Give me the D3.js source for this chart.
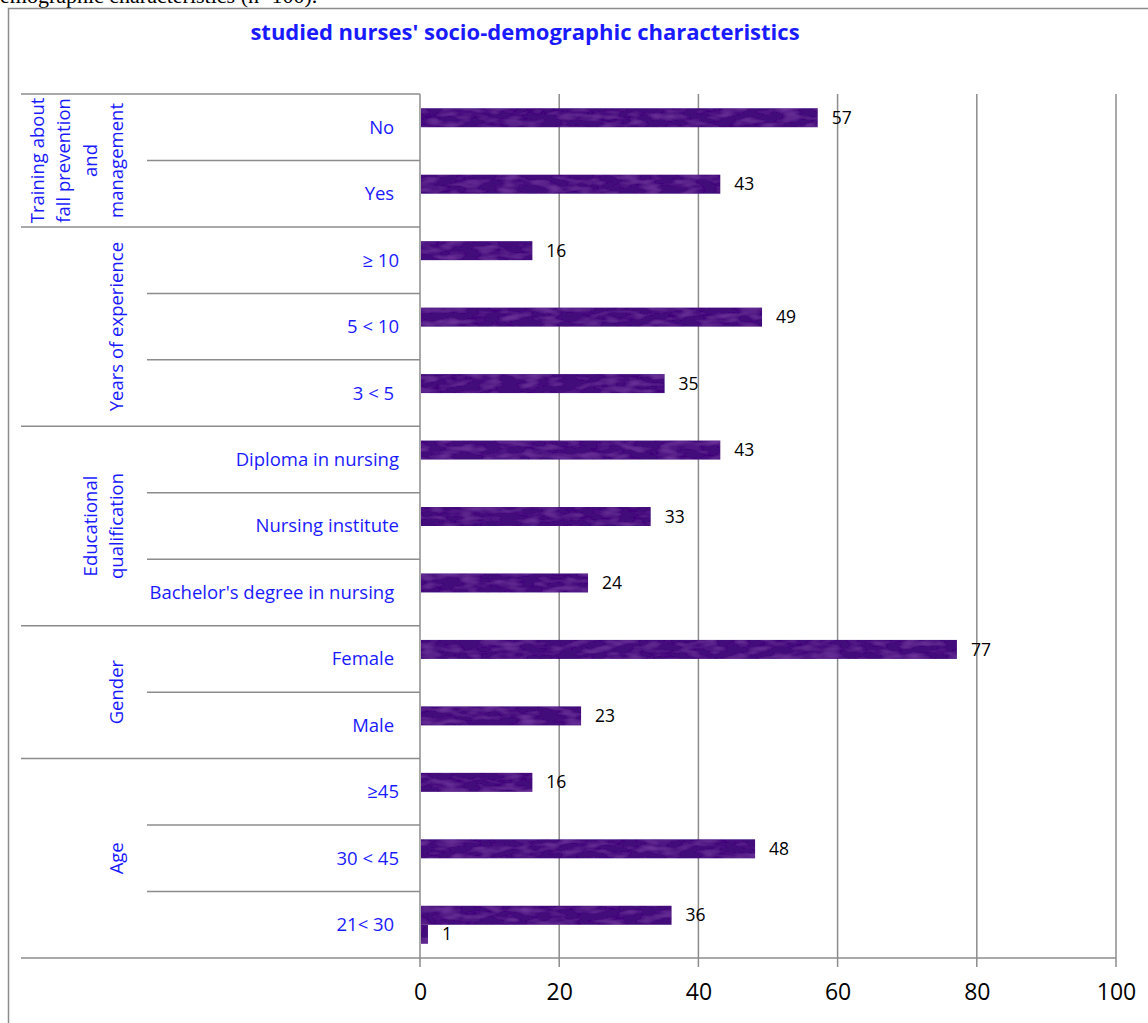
<!DOCTYPE html>
<html>
<head>
<meta charset="utf-8">
<script src="https://cdn.jsdelivr.net/npm/d3@7"></script>
<style>
  body { margin: 0; background: #fff; }
  svg { display: block; }
  text { font-family: "Open Sans", Lato, sans-serif; }
</style>
</head>
<body>
<div id="chart"></div>
<script>
// Categories top to bottom, with group labels
const categories = ["No ", "Yes ", "≥ 10", "5 < 10", "3 < 5 ", "Diploma in nursing", "Nursing institute",
  "Bachelor's degree in nursing ", "Female ", "Male ", "≥45", "30 < 45", "21< 30 "];
const groups = [
  ["Training about", "fall prevention", "and", "management"],
  ["Years of experience"],
  ["Educational", "qualification"],
  ["Gender"],
  ["Age"]
];
const groupSizes = [2, 3, 3, 2, 3];

// two series (second one only has a value for 21< 30)
const seriesA = [57, 43, 16, 49, 35, 43, 33, 24, 77, 23, 16, 48, 36];
const seriesB = [null, null, null, null, null, null, null, null, null, null, null, null, 1];
const xTicks = [0, 20, 40, 60, 80, 100];

const W = 1148, H = 1023;
const plot = {left: 420, right: 1116, top: 94, bottom: 958};
const gray = "#8c8c8c", blue = "#1a1aff";
const labelSize = "18.5px";

const svg = d3.select("#chart").append("svg")
  .attr("width", W).attr("height", H);

// bar texture
const defs = svg.append("defs");
const f = defs.append("filter").attr("id", "tex")
  .attr("x", 0).attr("y", 0).attr("width", 1).attr("height", 1);
f.append("feTurbulence").attr("type", "fractalNoise")
  .attr("baseFrequency", "0.05 0.15").attr("numOctaves", 2).attr("seed", 7).attr("result", "noise");
f.append("feColorMatrix").attr("in", "noise").attr("type", "matrix")
  .attr("values", "0 0 0 0 0.36  0 0 0 0 0.1  0 0 0 0 0.6  0 0 0 0.7 -0.3").attr("result", "tint");
f.append("feComposite").attr("in", "tint").attr("in2", "SourceGraphic").attr("operator", "in").attr("result", "tintc");
const fm = f.append("feMerge");
fm.append("feMergeNode").attr("in", "SourceGraphic");
fm.append("feMergeNode").attr("in", "tintc");

// cut-off caption above the frame
svg.append("text")
  .attr("x", -11).attr("y", 3)
  .style("font-family", "'Liberation Serif', serif")
  .style("font-size", "22px")
  .text("demographic characteristics (n=100).");

// frame
svg.append("rect")
  .attr("x", 8.5).attr("y", 8.5).attr("width", W + 10).attr("height", H + 10)
  .attr("fill", "none").attr("stroke", gray).attr("stroke-width", 1.5);

// title
svg.append("text")
  .attr("x", 525).attr("y", 40)
  .attr("text-anchor", "middle")
  .attr("fill", blue)
  .style("font-size", "22px").style("font-weight", "bold")
  .text("studied nurses' socio-demographic characteristics");

const x = d3.scaleLinear().domain([0, 100]).range([plot.left, plot.right]);
const y = d3.scaleBand().domain(d3.range(categories.length)).range([plot.top, plot.bottom]);
const sub = d3.scaleBand().domain(["A", "B"]).range([0, y.bandwidth()]).paddingOuter(0.75);

// gridlines + bottom ticks
svg.append("g").selectAll("line").data(xTicks).join("line")
  .attr("x1", d => x(d)).attr("x2", d => x(d))
  .attr("y1", plot.top).attr("y2", plot.bottom + 9)
  .attr("stroke", gray).attr("stroke-width", 1.5);

// x axis
const xAxis = svg.append("g")
  .attr("transform", `translate(0,${plot.bottom})`)
  .call(d3.axisBottom(x).tickValues(xTicks).tickSize(0).tickPadding(26));
xAxis.select(".domain").remove();
xAxis.selectAll("text")
  .style("font-family", "'Open Sans', sans-serif")
  .style("font-size", "23px").attr("fill", "#000");

// horizontal separators
const groupBounds = [0];
groupSizes.forEach(n => groupBounds.push(groupBounds[groupBounds.length - 1] + n));
const rowY = i => i < categories.length ? y(i) : plot.bottom;
svg.append("g").selectAll("line").data(d3.range(categories.length + 1)).join("line")
  .attr("x1", i => groupBounds.includes(i) ? 21 : 147)
  .attr("x2", i => i === categories.length ? plot.right : plot.left)
  .attr("y1", rowY).attr("y2", rowY)
  .attr("stroke", gray).attr("stroke-width", 1.5);

// category labels
svg.append("g").selectAll("text").data(categories).join("text")
  .attr("x", 399).attr("y", (d, i) => y(i) + y.bandwidth() / 2)
  .attr("dy", "0.35em")
  .attr("text-anchor", "end")
  .attr("fill", blue)
  .style("font-size", labelSize).style("white-space", "pre")
  .text(d => d);

// group labels (rotated)
groups.forEach((lines, gi) => {
  const cy = (rowY(groupBounds[gi]) + rowY(groupBounds[gi + 1])) / 2;
  const g = svg.append("g").attr("transform", `translate(117,${cy}) rotate(-90)`);
  g.selectAll("text").data(lines).join("text")
    .attr("x", 0)
    .attr("y", (d, i) => (i - (lines.length - 1)) * 26.5)
    .attr("dy", "0.35em")
    .attr("text-anchor", "middle")
    .attr("fill", blue)
    .style("font-size", labelSize)
    .text(d => d);
});

// bars
const barData = [];
seriesA.forEach((v, i) => { if (v != null) barData.push({s: "A", i, v}); });
seriesB.forEach((v, i) => { if (v != null) barData.push({s: "B", i, v}); });

svg.append("g").selectAll("rect").data(barData).join("rect")
  .attr("x", x(0) + 1)
  .attr("y", d => y(d.i) + sub(d.s))
  .attr("width", d => x(d.v) - x(0))
  .attr("height", sub.bandwidth())
  .attr("fill", "#42107a")
  .attr("filter", "url(#tex)");

// value labels
svg.append("g").selectAll("text").data(barData).join("text")
  .attr("x", d => x(d.v) + 15)
  .attr("y", d => y(d.i) + sub(d.s) + sub.bandwidth() / 2)
  .attr("dy", "0.35em")
  .attr("fill", "#000")
  .style("font-size", "17.5px")
  .text(d => d.v);
</script>
</body>
</html>
